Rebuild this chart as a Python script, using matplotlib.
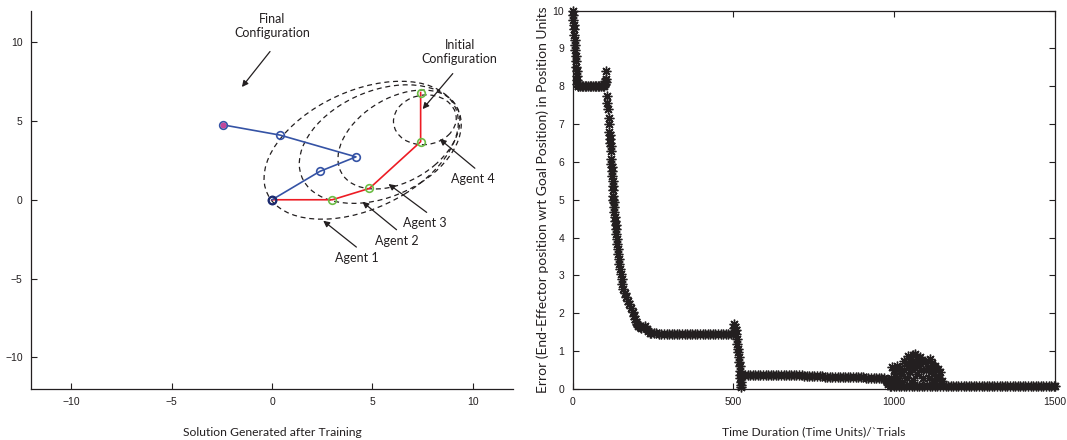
import matplotlib
matplotlib.use("Agg")
import matplotlib.pyplot as plt
from matplotlib.patches import Ellipse

# ---------------- left panel: planar 4-link arm ----------------
initial_x = [0.0, 3.0, 4.85, 7.4, 7.4]
initial_y = [0.0, 0.0, 0.72, 3.68, 6.8]
final_x = [0.0, 2.38, 4.18, 0.4, -2.45]
final_y = [0.0, 1.8, 2.72, 4.1, 4.75]
goal_xy = (-2.45, 4.75)

# workspace ellipse of each agent: centre, semi-axes, tilt (deg)
agent_names = ["Agent 1", "Agent 2", "Agent 3", "Agent 4"]
ellipse_cx = [4.44, 5.39, 6.32, 7.61]
ellipse_cy = [3.14, 3.53, 3.82, 5.07]
ellipse_a = [5.49, 4.51, 3.64, 1.62]
ellipse_b = [3.52, 3.17, 2.41, 1.52]
ellipse_deg = [38.0, 39.0, 47.4, 49.8]

# text position and arrow (tail -> head) for each note
note_texts = ["Final\nConfiguration", "Initial\nConfiguration",
              "Agent 4", "Agent 3", "Agent 2", "Agent 1"]
note_xy = [(0.0, 11.0), (9.35, 9.35), (10.0, 1.3), (7.6, -1.45),
           (6.2, -2.6), (4.2, -3.7)]
arrow_tail = [(-0.1, 9.4), (9.0, 8.0), (10.1, 2.0), (7.7, -0.8),
              (6.2, -1.9), (4.2, -3.0)]
arrow_head = [(-1.5, 7.15), (7.5, 5.75), (8.35, 3.85), (5.8, 1.0),
              (4.5, -0.13), (2.55, -1.33)]

# ---------------- right panel: error per trial ----------------
start_t = [0, 1, 2, 3, 4, 5, 6, 7, 8, 9, 10, 11, 12, 13, 14, 15, 16]
start_e = [10.0, 9.88, 9.75, 9.62, 9.5, 9.36, 9.22, 9.08, 8.95, 8.8,
           8.66, 8.52, 8.4, 8.28, 8.16, 8.07, 8.01]

hold8_t = [18, 23, 28, 33, 38, 43, 48, 53, 58, 63, 68, 73, 78, 83, 88, 93, 98]
hold8_e = [8.0, 8.0, 8.0, 8.0, 8.0, 8.0, 8.0, 8.0, 8.0, 8.0, 8.0, 8.0,
           8.0, 8.0, 8.0, 8.0, 8.0]

fall1_t = [100, 101, 103, 105, 104, 106, 108, 111, 113, 114, 114, 115, 116,
           117, 118, 119, 119, 120, 121, 122, 123, 124, 124, 125, 126, 127,
           128, 129, 130, 131, 132, 134, 135, 136, 137, 138, 140, 141, 143,
           145, 147, 149, 152, 155, 158, 162, 166, 171, 176, 182, 188, 191,
           194, 197, 200, 204, 209, 214, 220, 225, 230, 235, 240]
fall1_e = [8.05, 8.15, 8.2, 8.41, 8.1, 7.75, 7.55, 7.4, 7.15, 7.0, 6.8, 6.7,
           6.6, 6.5, 6.43, 6.3, 6.08, 5.95, 5.86, 5.75, 5.64, 5.5, 5.37, 5.25,
           5.11, 5.0, 4.93, 4.8, 4.67, 4.55, 4.45, 4.33, 4.23, 4.1, 3.96,
           3.83, 3.7, 3.57, 3.44, 3.3, 3.17, 3.05, 2.91, 2.78, 2.64, 2.53,
           2.42, 2.33, 2.25, 2.14, 2.03, 1.94, 1.85, 1.78, 1.72, 1.67, 1.63,
           1.62, 1.64, 1.67, 1.59, 1.52, 1.47]

hold15_t = [244, 252, 260, 268, 276, 284, 292, 300, 308, 316, 324, 332, 340,
            348, 356, 364, 372, 380, 388, 396, 404, 412, 420, 428, 436, 444,
            452, 460, 468, 476, 484, 492, 500]
hold15_e = [1.47, 1.47, 1.47, 1.46, 1.46, 1.46, 1.46, 1.46, 1.46, 1.46,
            1.46, 1.46, 1.46, 1.46, 1.46, 1.46, 1.46, 1.46, 1.46, 1.46,
            1.46, 1.46, 1.46, 1.46, 1.46, 1.46, 1.46, 1.46, 1.46, 1.46,
            1.46, 1.46, 1.46]

fall2_t = [502, 503, 505, 507, 509, 510, 512, 514, 515, 517, 518, 519, 520,
           521, 522, 523, 524, 524]
fall2_e = [1.6, 1.72, 1.65, 1.55, 1.45, 1.32, 1.2, 1.06, 0.97, 0.85, 0.71,
           0.6, 0.48, 0.38, 0.28, 0.18, 0.1, 0.05]

hold04_t = [528, 536, 544, 552, 560, 568, 576, 584, 592, 600, 608, 616, 624,
            632, 640, 648, 656, 664, 672, 680, 688, 696, 704, 712, 720, 728,
            736, 744, 752, 760, 768, 776, 784, 792, 800, 808, 816, 824, 832,
            840, 848, 856, 864, 872, 880, 888, 896, 904, 912, 920, 928, 936,
            944, 952, 960, 968]
hold04_e = [0.38, 0.38, 0.38, 0.38, 0.38, 0.38, 0.38, 0.38,
            0.37, 0.37, 0.37, 0.37, 0.37, 0.37, 0.37, 0.37,
            0.36, 0.36, 0.36, 0.36, 0.36, 0.36, 0.36, 0.36,
            0.35, 0.35, 0.35, 0.35, 0.35, 0.35, 0.35, 0.35,
            0.33, 0.33, 0.33, 0.33, 0.33, 0.33, 0.33, 0.33,
            0.31, 0.31, 0.31, 0.31, 0.31, 0.31, 0.31, 0.31,
            0.29, 0.29, 0.29, 0.29, 0.29, 0.29, 0.29, 0.29]

step_t = [974, 978, 982, 986]
step_e = [0.24, 0.18, 0.12, 0.08]

burst_t = [992, 1000, 1008, 1018, 1029, 1036, 1044, 1052, 1060, 1065, 1072,
           1080, 1088, 1096, 1104, 1111, 1118, 1127, 1135, 1143, 1148,
           990, 996, 1004, 1012, 1020, 1024, 1032, 1040, 1046, 1050, 1056,
           1058, 1064, 1068, 1070, 1076, 1084, 1090, 1100, 1106, 1108, 1114,
           1120, 1124, 1130, 1138, 1145,
           990, 998, 1006, 1014, 1022, 1030, 1038, 1046, 1054, 1062, 1070,
           1078, 1086, 1094, 1102, 1110, 1118, 1126, 1134, 1142]
burst_e = [0.58, 0.5, 0.61, 0.55, 0.75, 0.7, 0.88, 0.8, 0.9, 0.93, 0.85,
           0.84, 0.76, 0.71, 0.75, 0.79, 0.7, 0.62, 0.52, 0.44, 0.22,
           0.3, 0.2, 0.35, 0.25, 0.4, 0.18, 0.5, 0.3, 0.6, 0.45, 0.65,
           0.25, 0.55, 0.7, 0.4, 0.6, 0.5, 0.3, 0.5, 0.55, 0.3, 0.45,
           0.5, 0.25, 0.35, 0.3, 0.15,
           0.08, 0.08, 0.08, 0.08, 0.08, 0.08, 0.08, 0.08, 0.08, 0.08, 0.08,
           0.08, 0.08, 0.08, 0.08, 0.08, 0.08, 0.08, 0.08, 0.08]

hold01_t = [1152, 1160, 1168, 1176, 1184, 1192, 1200, 1208, 1216, 1224, 1232,
            1240, 1248, 1256, 1264, 1272, 1280, 1288, 1296, 1304, 1312, 1320,
            1328, 1336, 1344, 1352, 1360, 1368, 1376, 1384, 1392, 1400, 1408,
            1416, 1424, 1432, 1440, 1448, 1456, 1464, 1472, 1480, 1488, 1496,
            1500]
hold01_e = [0.09, 0.09, 0.09, 0.09, 0.09, 0.09, 0.09, 0.09, 0.09, 0.09,
            0.09, 0.08, 0.08, 0.08, 0.08, 0.08, 0.08, 0.08, 0.08, 0.08,
            0.08, 0.08, 0.08, 0.08, 0.08, 0.08, 0.08, 0.08, 0.08, 0.08,
            0.08, 0.08, 0.08, 0.08, 0.08, 0.08, 0.08, 0.08, 0.08, 0.08,
            0.08, 0.08, 0.08, 0.08, 0.08]

x_ticks_left = [-10, -5, 0, 5, 10]
y_ticks_left = [-10, -5, 0, 5, 10]
x_ticks_right = [0, 500, 1000, 1500]
y_ticks_right = list(range(0, 11))

# ---------------- styling ----------------
TICK_FONT = "Liberation Sans"
TEXT_FONT = "Lato"
INK = "#231f20"
BLUE = "#3553a5"
RED = "#ed1c24"
GREEN = "#6cbd45"

fig = plt.figure(figsize=(10.67, 4.4), dpi=100)
axL = fig.add_axes([0.0291, 0.1159, 0.4517, 0.8602])
axR = fig.add_axes([0.5367, 0.1159, 0.4520, 0.8602])

# --- arm plot ---
for cx, cy, a, b, ang in zip(ellipse_cx, ellipse_cy, ellipse_a, ellipse_b, ellipse_deg):
    axL.add_patch(Ellipse((cx, cy), 2 * a, 2 * b, angle=ang, fill=False,
                          edgecolor=INK, lw=0.9, linestyle=(0, (4, 3))))

axL.plot(initial_x, initial_y, color=RED, lw=1.2, zorder=3)
axL.plot(initial_x[1:], initial_y[1:], 'o', mfc='none', mec=GREEN,
         mew=1.2, ms=5.5, zorder=4)
axL.plot(final_x, final_y, color=BLUE, lw=1.2, zorder=3)
axL.plot(final_x, final_y, 'o', mfc='none', mec=BLUE, mew=1.2, ms=5.5, zorder=4)
axL.plot([final_x[0]], [final_y[0]], 'o', mfc='none', mec="#1c2a6e",
         mew=1.6, ms=5.5, zorder=5)
axL.plot([goal_xy[0]], [goal_xy[1]], marker=(8, 2, 0), color="#c2479a",
         ms=4, mew=0.9, zorder=5)

for txt, (tx, ty), tail, head in zip(note_texts, note_xy, arrow_tail, arrow_head):
    axL.text(tx, ty, txt, ha='center', va='center', fontsize=9,
             family=TEXT_FONT, color=INK, linespacing=1.2)
    axL.annotate("", xy=head, xytext=tail,
                 arrowprops=dict(arrowstyle='-|>', color=INK, lw=0.9,
                                 mutation_scale=9, shrinkA=0, shrinkB=0))

axL.set_xlim(-12, 12)
axL.set_ylim(-12, 12)
axL.set_xticks(x_ticks_left)
axL.set_yticks(y_ticks_left)
axL.set_xticklabels(["\u221210", "\u22125", "0", "5", "10"])
axL.set_yticklabels(["\u221210", "\u22125", "0", "5", "10"])
axL.spines['top'].set_visible(False)
axL.spines['right'].set_visible(False)
axL.set_xlabel("Solution Generated after Training", family=TEXT_FONT,
               fontsize=8.7, labelpad=14, color=INK)

# --- error plot ---
segments_t = [start_t, hold8_t, fall1_t, hold15_t, fall2_t, hold04_t,
              step_t, burst_t, hold01_t]
segments_e = [start_e, hold8_e, fall1_e, hold15_e, fall2_e, hold04_e,
              step_e, burst_e, hold01_e]
for ts, es in zip(segments_t, segments_e):
    axR.plot(ts, es, linestyle='none', marker=(8, 2, 0), color=INK,
             ms=7, mew=1.0, clip_on=False, zorder=3)

axR.set_xlim(0, 1500)
axR.set_ylim(0, 10)
axR.set_xticks(x_ticks_right)
axR.set_yticks(y_ticks_right)
axR.set_xlabel("Time Duration (Time Units)/`Trials", family=TEXT_FONT,
               fontsize=8.7, labelpad=14, color=INK)
axR.set_ylabel("Error (End-Effector position wrt Goal Position) in Position Units",
               family=TEXT_FONT, fontsize=10, labelpad=3, color=INK)
axR.tick_params(top=True, right=True)

for ax in (axL, axR):
    ax.tick_params(direction='in', length=4, width=0.8, colors=INK,
                   labelsize=7.5, pad=6)
    for lab in ax.get_xticklabels() + ax.get_yticklabels():
        lab.set_family(TICK_FONT)
    for sp in ax.spines.values():
        sp.set_linewidth(0.9)
        sp.set_color(INK)

fig.savefig("out.png", dpi=100)
